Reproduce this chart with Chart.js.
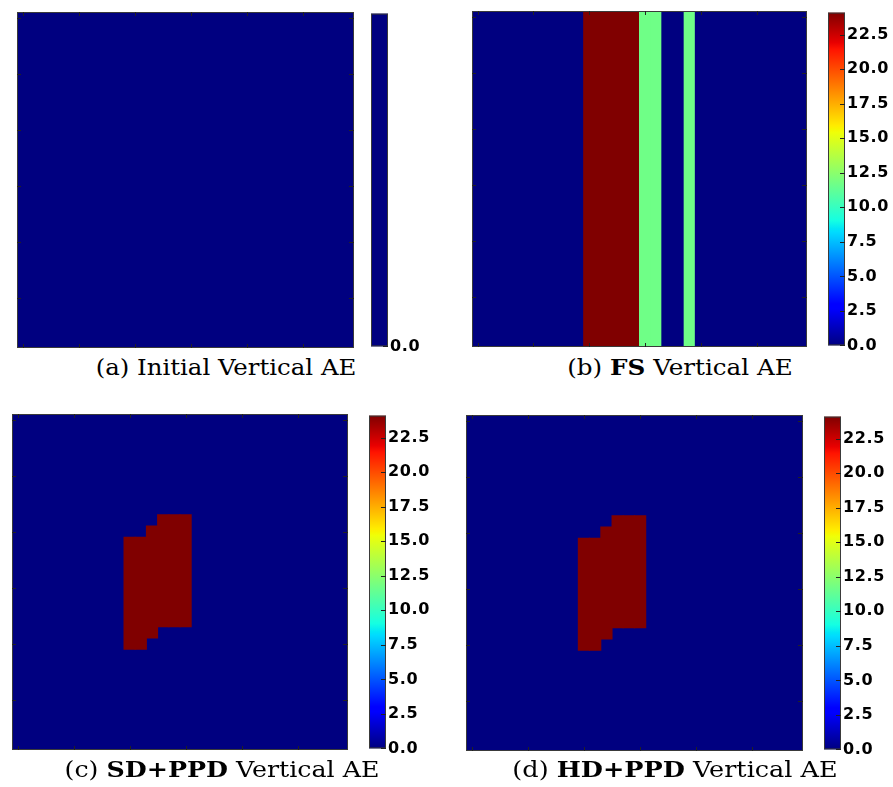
<!DOCTYPE html>
<html>
<head>
<meta charset="utf-8">
<script src="https://cdn.jsdelivr.net/npm/chart.js@4.4.1/dist/chart.umd.min.js"></script>
<style>
  body { margin: 0; background: #fff; width: 893px; height: 787px; position: relative; overflow: hidden; }
  canvas { position: absolute; }
  .cap { position: absolute; font-family: "DejaVu Serif", serif; font-size: 22px; white-space: nowrap; color: #000; }
</style>
</head>
<body>
<canvas id="heatA" width="337" height="336" style="left:17px;top:12px"></canvas>
<canvas id="cbarA" width="69" height="356" style="left:371px;top:2px"></canvas>
<canvas id="heatB" width="335" height="336" style="left:472px;top:11px"></canvas>
<canvas id="cbarB" width="69" height="356" style="left:828px;top:1px"></canvas>
<canvas id="heatC" width="336" height="336" style="left:12px;top:414px"></canvas>
<canvas id="cbarC" width="69" height="356" style="left:369px;top:404px"></canvas>
<canvas id="heatD" width="337" height="336" style="left:466px;top:415px"></canvas>
<canvas id="cbarD" width="69" height="356" style="left:824px;top:405px"></canvas>

<div class="cap" style="left:226px;top:367px;transform:translate(-50%,-50%) scaleX(1.11)">(a) Initial Vertical AE</div>
<div class="cap" style="left:680px;top:367px;transform:translate(-50%,-50%) scaleX(1.12)">(b) <b>FS</b> Vertical AE</div>
<div class="cap" style="left:222px;top:769px;transform:translate(-50%,-50%) scaleX(1.15)">(c) <b>SD+PPD</b> Vertical AE</div>
<div class="cap" style="left:675px;top:769px;transform:translate(-50%,-50%) scaleX(1.16)">(d) <b>HD+PPD</b> Vertical AE</div>

<script>
// grid is 30 x 30 cells, one category per column
const columnLabels = [
  "0", "1", "2", "3", "4", "5", "6", "7", "8", "9",
  "10", "11", "12", "13", "14", "15", "16", "17", "18", "19",
  "20", "21", "22", "23", "24", "25", "26", "27", "28", "29"
];
const gridRows = 30;
const vmax = 24.1;

// colorbar tick labels
const cbarTicks = [0, 2.5, 5, 7.5, 10, 12.5, 15, 17.5, 20, 22.5];
const cbarTicksInitial = [0];

// (a) initial: every column is zero
const initialColumns = [
  0, 0, 0, 0, 0, 0, 0, 0, 0, 0,
  0, 0, 0, 0, 0, 0, 0, 0, 0, 0,
  0, 0, 0, 0, 0, 0, 0, 0, 0, 0
];

// (b) FS: whole columns carry a value
const fsColumns = [
  0, 0, 0, 0, 0, 0, 0, 0, 0, 0,
  24.1, 24.1, 24.1, 24.1, 24.1, 11.7, 11.7, 0, 0, 11.7,
  0, 0, 0, 0, 0, 0, 0, 0, 0, 0
];

// (c) SD+PPD: zero background plus a hot block (row ranges per column)
const sdColumns = initialColumns;
const sdHotRows = [
  null, null, null, null, null, null, null, null, null, null,
  [11, 21], [11, 21], [10, 20], [9, 19], [9, 19], [9, 19], null, null, null, null,
  null, null, null, null, null, null, null, null, null, null
];
const sdHotValues = [
  0, 0, 0, 0, 0, 0, 0, 0, 0, 0,
  24.1, 24.1, 24.1, 24.1, 24.1, 24.1, 0, 0, 0, 0,
  0, 0, 0, 0, 0, 0, 0, 0, 0, 0
];

// (d) HD+PPD: same block as (c)
const hdColumns = initialColumns;
const hdHotRows = [
  null, null, null, null, null, null, null, null, null, null,
  [11, 21], [11, 21], [10, 20], [9, 19], [9, 19], [9, 19], null, null, null, null,
  null, null, null, null, null, null, null, null, null, null
];
const hdHotValues = sdHotValues;

// matplotlib "jet" colormap segments
const jetR = [[0, 0], [0.35, 0], [0.66, 1], [0.89, 1], [1, 0.5]];
const jetG = [[0, 0], [0.125, 0], [0.375, 1], [0.64, 1], [0.91, 0], [1, 0]];
const jetB = [[0, 0.5], [0.11, 1], [0.34, 1], [0.65, 0], [1, 0]];

function seg(pts, x) {
  x = Math.max(0, Math.min(1, x));
  for (let i = 1; i < pts.length; i++) {
    if (x <= pts[i][0]) {
      const t = (x - pts[i - 1][0]) / (pts[i][0] - pts[i - 1][0]);
      return pts[i - 1][1] + t * (pts[i][1] - pts[i - 1][1]);
    }
  }
  return pts[pts.length - 1][1];
}
function jet(x) {
  const c = v => Math.round(seg(v, x) * 255);
  return `rgb(${c(jetR)},${c(jetG)},${c(jetB)})`;
}

// frame + inward tick marks, like matplotlib classic axes
const framePlugin = {
  id: 'frame',
  beforeDraw(chart, args, opts) {
    if (opts.spacing) chart.ctx.letterSpacing = opts.spacing;
  },
  afterDraw(chart, args, opts) {
    const { ctx, chartArea: a } = chart;
    ctx.save();
    ctx.strokeStyle = '#3a3a3a';
    ctx.lineWidth = 1;
    ctx.strokeRect(a.left + 0.5, a.top + 0.5, a.right - a.left - 1, a.bottom - a.top - 1);
    ctx.strokeStyle = '#222';
    ctx.beginPath();
    (opts.xTicks || []).forEach(v => {
      const x = Math.round(chart.scales.x.getPixelForValue(v)) + 0.5;
      ctx.moveTo(x, a.bottom); ctx.lineTo(x, a.bottom - 4);
      ctx.moveTo(x, a.top); ctx.lineTo(x, a.top + 4);
    });
    (opts.yTicks || []).forEach(v => {
      const y = Math.round(chart.scales.y.getPixelForValue(v)) + 0.5;
      if (!opts.rightOnly) { ctx.moveTo(a.left, y); ctx.lineTo(a.left + 4, y); }
      ctx.moveTo(a.right, y); ctx.lineTo(a.right - 5, y);
    });
    ctx.stroke();
    ctx.restore();
  }
};

function heatmap(id, columns, hotRows, hotValues) {
  const datasets = [];
  if (hotRows) {
    datasets.push({
      data: hotRows,
      backgroundColor: hotValues.map(v => jet(v / vmax)),
      order: 0
    });
  }
  datasets.push({
    data: columns.map(() => [0, gridRows]),
    backgroundColor: columns.map(v => jet(v / vmax)),
    order: 1
  });
  new Chart(document.getElementById(id), {
    type: 'bar',
    data: { labels: columnLabels, datasets: datasets },
    options: {
      responsive: false,
      animation: false,
      events: [],
      datasets: { bar: { grouped: false, barPercentage: 1, categoryPercentage: 1, borderWidth: 0, inflateAmount: 0.5 } },
      layout: { padding: 0 },
      plugins: {
        legend: { display: false },
        tooltip: { enabled: false },
        frame: { xTicks: [0, 5, 10, 15, 20, 25], yTicks: [0.5, 5.5, 10.5, 15.5, 20.5, 25.5] }
      },
      scales: {
        x: { type: 'category', display: false, offset: true },
        y: { type: 'linear', display: false, min: 0, max: gridRows, reverse: true }
      }
    },
    plugins: [framePlugin]
  });
}

function colorbar(id, ticks, top, flat) {
  new Chart(document.getElementById(id), {
    type: 'bar',
    data: {
      labels: ['cbar'],
      datasets: [{
        data: [[0, top]],
        backgroundColor: (c) => {
          const chart = c.chart;
          const a = chart.chartArea;
          if (!a) return jet(0);
          if (flat) return jet(0);
          const g = chart.ctx.createLinearGradient(0, a.bottom, 0, a.top);
          [0, 0.11, 0.125, 0.34, 0.35, 0.375, 0.64, 0.65, 0.66, 0.89, 0.91, 1].forEach(s => g.addColorStop(s, jet(s)));
          return g;
        },
        barPercentage: 1,
        categoryPercentage: 1,
        borderWidth: 0
      }]
    },
    options: {
      responsive: false,
      animation: false,
      events: [],
      layout: { padding: { top: 10, bottom: 10, left: 0, right: 0 } },
      plugins: {
        legend: { display: false },
        tooltip: { enabled: false },
        frame: { yTicks: ticks, rightOnly: true, spacing: '0.6px' }
      },
      scales: {
        x: { display: false },
        y: {
          position: 'right',
          min: 0,
          max: top,
          grid: { display: false, drawTicks: false },
          border: { display: false },
          afterBuildTicks: s => { s.ticks = ticks.map(v => ({ value: v })); },
          afterFit: s => { s.width = 52; },
          ticks: {
            padding: 2,
            color: '#000',
            font: { family: 'DejaVu Sans', weight: 'bold', size: 16 },
            callback: v => Number(v).toFixed(1)
          }
        }
      }
    },
    plugins: [framePlugin]
  });
}

heatmap('heatA', initialColumns, null, null);
colorbar('cbarA', cbarTicksInitial, 1, true);

heatmap('heatB', fsColumns, null, null);
colorbar('cbarB', cbarTicks, vmax, false);

heatmap('heatC', sdColumns, sdHotRows, sdHotValues);
colorbar('cbarC', cbarTicks, vmax, false);

heatmap('heatD', hdColumns, hdHotRows, hdHotValues);
colorbar('cbarD', cbarTicks, vmax, false);
</script>
</body>
</html>
